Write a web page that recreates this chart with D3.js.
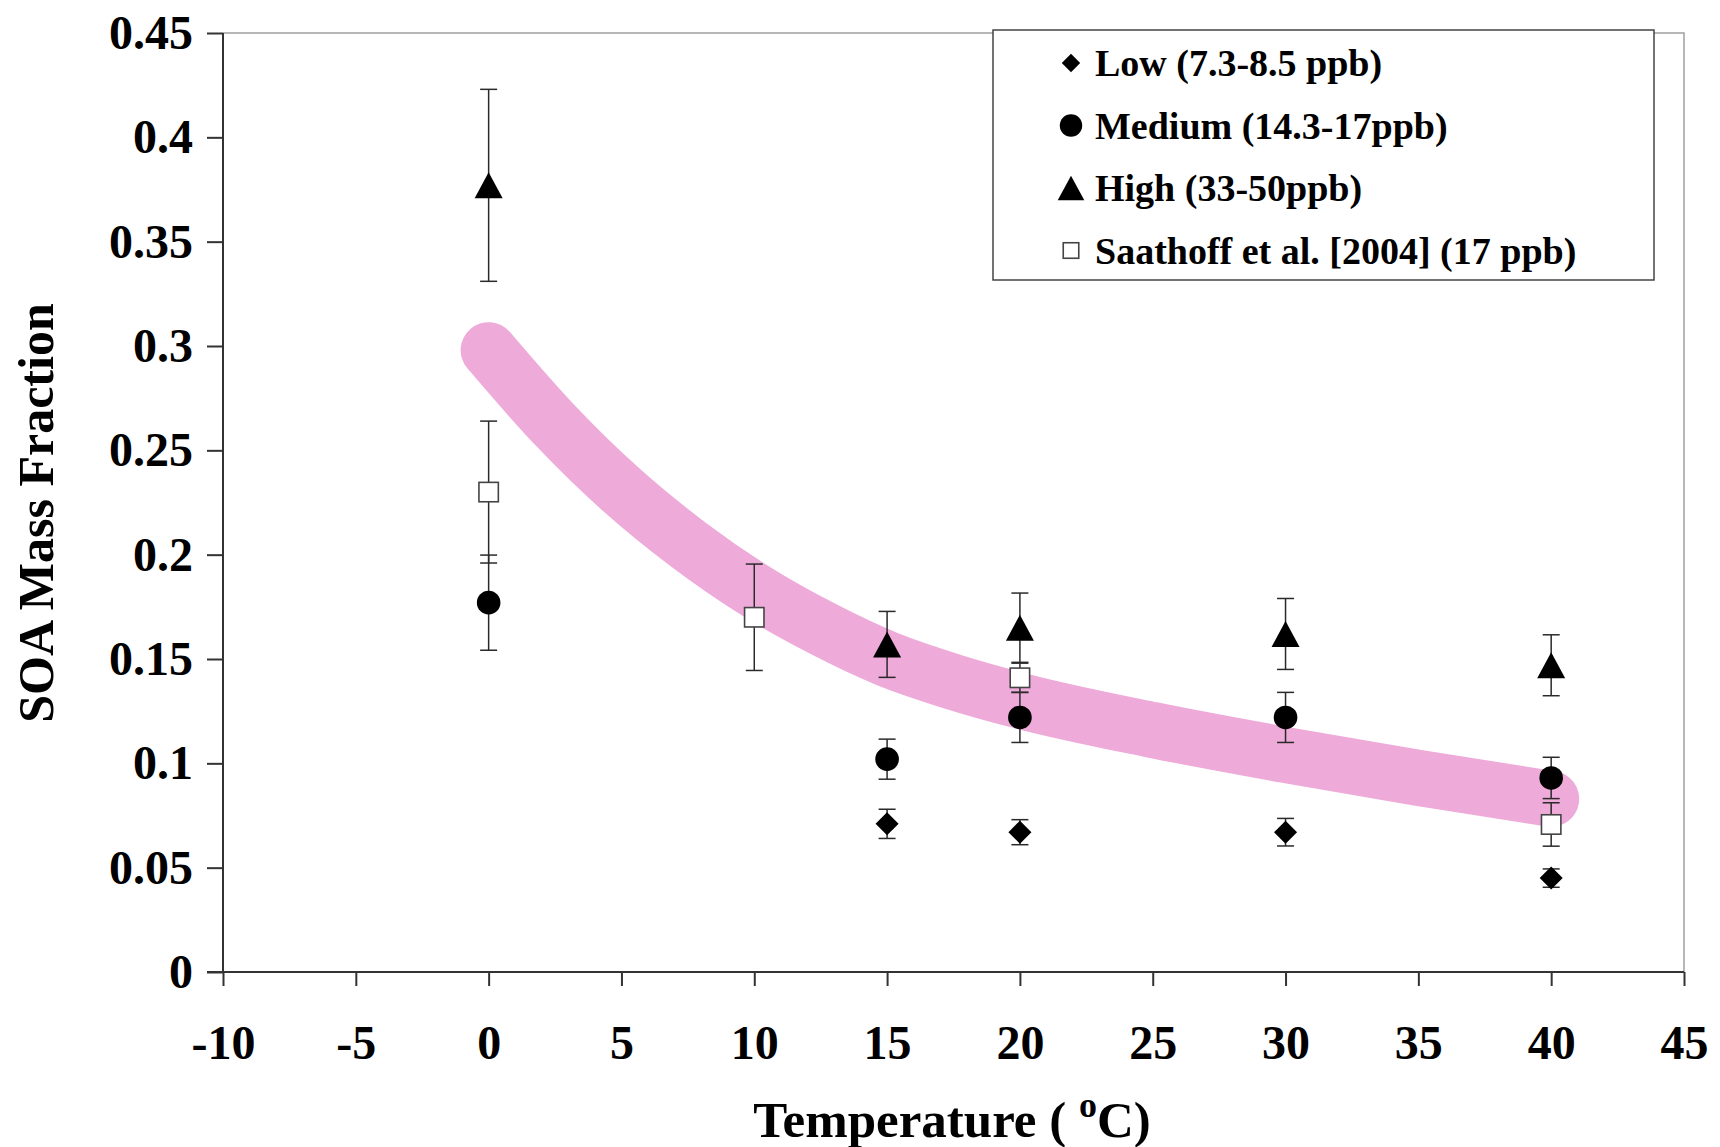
<!DOCTYPE html>
<html>
<head>
<meta charset="utf-8">
<script src="https://cdn.jsdelivr.net/npm/d3@7"></script>
<style>
  body { margin: 0; background: #fff; }
  text { font-family: "Liberation Serif", "Times New Roman", serif; font-weight: bold; fill: #000; }
</style>
</head>
<body>
<svg id="chart" width="1720" height="1147"></svg>
<script>
var xTicks = [-10, -5, 0, 5, 10, 15, 20, 25, 30, 35, 40, 45];
var yTicks = [0, 0.05, 0.1, 0.15, 0.2, 0.25, 0.3, 0.35, 0.4, 0.45];
var yTickLabels = ["0", "0.05", "0.1", "0.15", "0.2", "0.25", "0.3", "0.35", "0.4", "0.45"];

var lowT = [15, 20, 30, 40];
var lowV = [0.071, 0.067, 0.067, 0.045];
var lowErr = [0.007, 0.006, 0.0066, 0.0044];

var medT = [0, 15, 20, 30, 40];
var medV = [0.177, 0.102, 0.122, 0.122, 0.093];
var medErr = [0.0228, 0.0096, 0.012, 0.012, 0.0099];

var highT = [0, 15, 20, 30, 40];
var highV = [0.377, 0.157, 0.165, 0.162, 0.147];
var highErr = [0.046, 0.0158, 0.0166, 0.017, 0.0146];

var saatT = [0, 10, 20, 40];
var saatV = [0.230, 0.170, 0.141, 0.0707];
var saatErr = [0.034, 0.0255, 0.007, 0.0104];

// hand-drawn trend band
var bandT = [0, 2.5, 5, 7.5, 10, 12.5, 15, 17.5, 20, 25, 30, 35, 40];
var bandV = [0.298, 0.262, 0.231, 0.205, 0.183, 0.165, 0.150, 0.139, 0.130, 0.116, 0.104, 0.093, 0.083];

var legendLabels = ["Low (7.3-8.5 ppb)", "Medium (14.3-17ppb)", "High (33-50ppb)", "Saathoff et al. [2004] (17 ppb)"];

var svg = d3.select("#chart");
var plotL = 223, plotR = 1684, plotT = 33, plotB = 972;

var x = d3.scaleLinear().domain([-10, 45]).range([plotL, plotR]);
var y = d3.scaleLinear().domain([0, 0.45]).range([plotB, plotT]);

// light frame on top and right
svg.append("path")
  .attr("d", "M" + plotL + "," + plotT + "H" + plotR + "V" + plotB)
  .attr("fill", "none")
  .attr("stroke", "#a0a0a0")
  .attr("stroke-width", 1.5);

var yAxis = svg.append("g")
  .attr("transform", "translate(" + plotL + ",0)")
  .call(d3.axisLeft(y).tickValues(yTicks).tickSize(16).tickPadding(14)
    .tickFormat(function(d, i) { return yTickLabels[i]; }));

var xAxis = svg.append("g")
  .attr("transform", "translate(0," + plotB + ")")
  .call(d3.axisBottom(x).tickValues(xTicks).tickSize(14).tickPadding(39)
    .tickFormat(function(d) { return String(d); }));

[yAxis, xAxis].forEach(function(g) {
  g.select(".domain").attr("stroke", "#333").attr("stroke-width", 2);
  g.selectAll(".tick line").attr("stroke", "#333").attr("stroke-width", 2);
  g.selectAll(".tick text")
    .attr("font-size", 48)
    .attr("font-family", "Liberation Serif")
    .attr("font-weight", "bold")
    .attr("fill", "#000");
});
yAxis.select(".domain").attr("d", "M0," + plotT + "V" + plotB);
xAxis.select(".domain").attr("d", "M" + (plotL - 16) + ",0H" + plotR);

// pink band
var band = d3.line()
  .x(function(d) { return x(d[0]); })
  .y(function(d) { return y(d[1]); })
  .curve(d3.curveMonotoneX);

svg.append("path")
  .datum(d3.zip(bandT, bandV))
  .attr("d", band)
  .attr("fill", "none")
  .attr("stroke", "#eeaad8")
  .attr("stroke-width", 56)
  .attr("stroke-linecap", "round");

var series = [
  { t: lowT, v: lowV, e: lowErr, shape: "diamond" },
  { t: medT, v: medV, e: medErr, shape: "circle" },
  { t: highT, v: highV, e: highErr, shape: "triangle" },
  { t: saatT, v: saatV, e: saatErr, shape: "square" }
];

function marker(g, shape, scale) {
  var s = scale || 1;
  if (shape === "diamond") {
    g.append("path").attr("d", d3.symbol(d3.symbolDiamond2, 338 * s * s)()).attr("fill", "#000");
  } else if (shape === "circle") {
    g.append("circle").attr("r", 11.8 * s).attr("fill", "#000");
  } else if (shape === "triangle") {
    // centred on its bounding box, as the original markers are
    var w = 14 * s, h = 13 * s;
    g.append("path").attr("d", "M0," + (-h) + "L" + w + "," + h + "L" + (-w) + "," + h + "Z")
      .attr("fill", "#000");
  } else {
    g.append("rect").attr("x", -9.7 * s).attr("y", -9.7 * s)
      .attr("width", 19.4 * s).attr("height", 19.4 * s)
      .attr("fill", "#fff").attr("stroke", "#444").attr("stroke-width", 1.6);
  }
}

series.forEach(function(sr) {
  var eb = svg.append("g");
  sr.t.forEach(function(t, i) {
    var cx = x(t), y1 = y(sr.v[i] + sr.e[i]), y2 = y(sr.v[i] - sr.e[i]);
    eb.append("line").attr("x1", cx).attr("x2", cx).attr("y1", y1).attr("y2", y2)
      .attr("stroke", "#2a2a2a").attr("stroke-width", 1.5);
    [y1, y2].forEach(function(yy) {
      eb.append("line").attr("x1", cx - 8.5).attr("x2", cx + 8.5).attr("y1", yy).attr("y2", yy)
        .attr("stroke", "#2a2a2a").attr("stroke-width", 1.5);
    });
  });
});

series.forEach(function(sr) {
  sr.t.forEach(function(t, i) {
    var g = svg.append("g").attr("transform", "translate(" + x(t) + "," + y(sr.v[i]) + ")");
    marker(g, sr.shape);
  });
});

// legend
var lg = svg.append("g");
lg.append("rect")
  .attr("x", 993).attr("y", 30).attr("width", 661).attr("height", 250)
  .attr("fill", "#fff").attr("stroke", "#444").attr("stroke-width", 1.5);

legendLabels.forEach(function(label, i) {
  var ly = 63 + i * 62.5;
  var g = lg.append("g").attr("transform", "translate(1071," + ly + ")");
  marker(g, series[i].shape, [0.8, 0.95, 0.95, 0.8][i]);
  lg.append("text")
    .attr("x", 1095).attr("y", ly)
    .attr("dy", "0.35em")
    .attr("font-size", 38)
    .text(label);
});

// axis titles
svg.append("text")
  .attr("transform", "translate(53," + (513) + ") rotate(-90)")
  .attr("text-anchor", "middle")
  .attr("font-size", 50)
  .text("SOA Mass Fraction");

var xt = svg.append("text")
  .attr("x", 952)
  .attr("y", 1137)
  .attr("text-anchor", "middle")
  .attr("font-size", 51);
xt.append("tspan").text("Temperature ( ");
xt.append("tspan").attr("font-size", 36).attr("dy", -20).text("o");
xt.append("tspan").attr("dy", 20).text("C)");
</script>
</body>
</html>
